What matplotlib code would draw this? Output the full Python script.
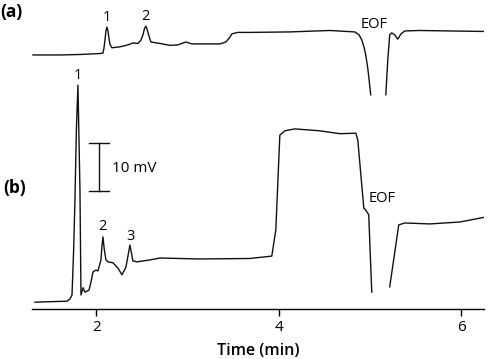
import numpy as np
import matplotlib
matplotlib.use("Agg")
from matplotlib import pyplot as plt

plt.rcParams['font.family'] = ['Open Sans', 'DejaVu Sans']

# trace (a), time in min, signal in mV relative to its own baseline
time_a = [1.304, 1.600, 1.819, 2.038, 2.071, 2.082, 2.093, 2.104, 2.115, 2.126,
          2.137, 2.148, 2.170, 2.258, 2.345, 2.400, 2.455, 2.488, 2.510, 2.528,
          2.542, 2.556, 2.575, 2.597, 2.696, 2.805, 2.893, 2.981, 3.047, 3.189,
          3.353, 3.419, 3.460, 3.485, 3.551, 3.682, 4.121, 4.559, 4.833, 4.880,
          4.910, 4.935, 4.953, 4.975, 5.008, np.nan,
          5.173, 5.195, 5.216, 5.238, 5.270, 5.304, 5.340, 5.381, 5.545, 5.874,
          6.247]
signal_a = [0.0, 0.0, 0.1, 0.3, 0.4, 1.4, 3.1, 5.0, 5.8, 5.0,
            3.5, 2.2, 1.5, 1.7, 2.1, 2.5, 2.4, 3.1, 4.2, 5.6,
            6.0, 5.3, 4.0, 2.7, 2.4, 2.0, 2.1, 2.7, 2.3, 2.3,
            2.3, 2.7, 3.6, 4.4, 4.7, 4.7, 4.8, 5.1, 4.8, 4.2,
            3.1, 1.6, 0.0, -2.7, -8.3, np.nan,
            -8.3, -1.0, 4.2, 4.6, 4.2, 3.3, 4.4, 5.0, 5.1, 5.0,
            4.9]

# trace (b)
time_b = [1.326, 1.490, 1.677, 1.710, 1.732, 1.750, 1.764, 1.780, 1.797, 1.808,
          1.819, 1.830, 1.852, 1.874, 1.918, 1.940, 1.962, 1.995, 2.016, 2.049,
          2.060, 2.071, 2.085, 2.104, 2.126, 2.181, 2.236, 2.279, 2.323, 2.350,
          2.367, 2.385, 2.400, 2.444, 2.586, 2.696, 3.134, 3.682, 3.923, 3.967,
          4.011, 4.066, 4.175, 4.449, 4.668, 4.844, 4.866, 4.888, 4.932, 4.953,
          4.986, 5.019, np.nan,
          5.216, 5.315, 5.381, 5.655, 5.984, 6.258]
signal_b = [-0.1, 0.0, 0.1, 0.6, 1.4, 11.0, 21.2, 36.0, 45.1, 34.0,
            23.3, 1.4, 2.9, 2.0, 2.4, 4.1, 6.2, 6.6, 6.4, 8.7,
            11.5, 13.5, 11.0, 8.7, 8.3, 8.1, 7.0, 5.6, 7.2, 10.0,
            11.8, 10.0, 8.5, 8.3, 8.7, 9.1, 8.9, 9.0, 9.5, 15.0,
            34.7, 35.6, 36.0, 35.6, 35.0, 35.1, 33.7, 28.9, 19.5, 19.1,
            18.1, 2.0, np.nan,
            3.1, 16.0, 16.4, 16.2, 16.6, 17.6]

offset_a = 51.4

fig = plt.figure(figsize=(5, 3.59), dpi=100)
ax = fig.add_axes([0.064, 0.1393, 0.904, 0.8607])

ax.plot(time_a, np.array(signal_a) + offset_a, color='#111111', lw=1.0)
ax.plot(time_b, signal_b, color='#111111', lw=1.0)

# peak labels
ax.text(2.115, offset_a + 7.9, '1', ha='center', va='center', fontsize=10.5)
ax.text(2.542, offset_a + 8.1, '2', ha='center', va='center', fontsize=10.5)
ax.text(5.041, offset_a + 6.25, 'EOF', ha='center', va='center', fontsize=10.5)
ax.text(1.797, 47.2, '1', ha='center', va='center', fontsize=10.5)
ax.text(2.068, 15.6, '2', ha='center', va='center', fontsize=10.5)
ax.text(2.375, 13.5, '3', ha='center', va='center', fontsize=10.5)
ax.text(5.134, 21.6, 'EOF', ha='center', va='center', fontsize=10.5)

# 10 mV scale bar
ax.plot([2.027, 2.027], [23.06, 33.06], color='#111111', lw=1.0)
ax.plot([1.918, 2.137], [23.06, 23.06], color='#111111', lw=1.0)
ax.plot([1.918, 2.137], [33.06, 33.06], color='#111111', lw=1.0)
ax.text(2.17, 27.8, '10 mV', ha='left', va='center', fontsize=11)

fig.text(0.0, 0.967, '(a)', ha='left', va='center', fontsize=12.5, fontweight='bold')
fig.text(0.006, 0.476, '(b)', ha='left', va='center', fontsize=12.5, fontweight='bold')

ax.set_xlim(1.293, 6.25)
ax.set_ylim(-1.52, 62.85)
for s in ['top', 'left', 'right']:
    ax.spines[s].set_visible(False)
ax.spines['bottom'].set_linewidth(1.0)
ax.set_yticks([])
ax.set_xticks([2, 4, 6])
ax.tick_params(axis='x', direction='out', length=5, width=1.0, labelsize=11, pad=3)
ax.set_xlabel('Time (min)', fontsize=11.5, fontweight='semibold', labelpad=6)

fig.savefig('out.png', dpi=100)
